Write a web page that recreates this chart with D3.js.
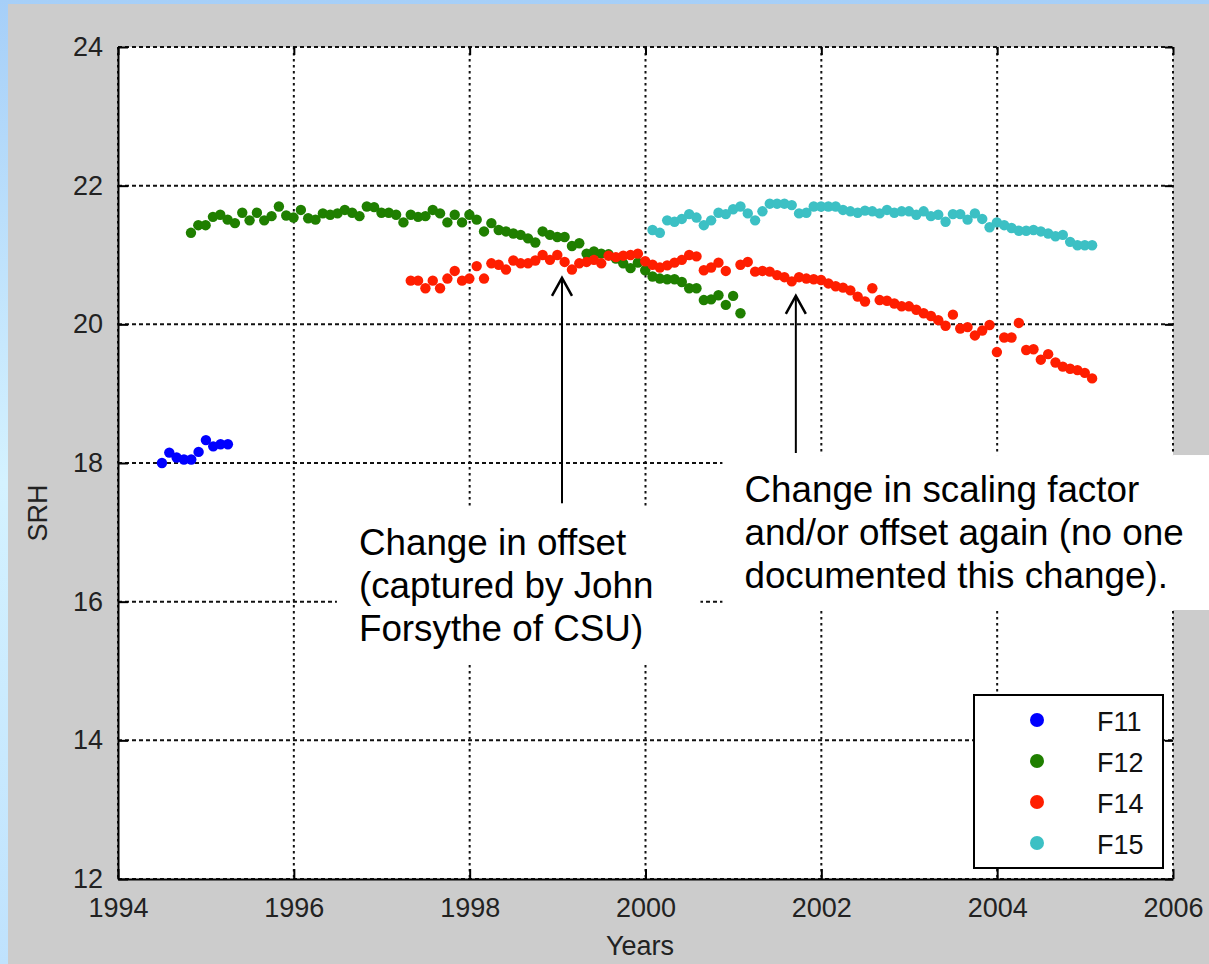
<!DOCTYPE html>
<html>
<head>
<meta charset="utf-8">
<script src="https://cdn.jsdelivr.net/npm/d3@7"></script>
<style>
  html, body { margin: 0; padding: 0; background: #cccccc; }
  svg { display: block; }
  text { font-family: "Liberation Sans", Arial, Helvetica, sans-serif; }
</style>
</head>
<body>
<svg id="chart" width="1209" height="964"></svg>
<script>
// ---------------- DATA ----------------
const X_TICKS = [1994, 1996, 1998, 2000, 2002, 2004, 2006];
const Y_TICKS = [12, 14, 16, 18, 20, 22, 24];
const SERIES_NAMES = ["F11", "F12", "F14", "F15"];
const SERIES_COLORS = ["#0000ff", "#1f7f00", "#ff1e00", "#3cc0c4"];
const SERIES_START = [1994.5, 1994.83, 1997.33, 2000.08]; // first monthly sample (decimal year)

const F11 = [18.00, 18.15, 18.08, 18.05, 18.05, 18.16, 18.33, 18.24, 18.27, 18.27];

const F12 = [21.32, 21.43, 21.43, 21.55, 21.58, 21.51, 21.46, 21.61, 21.50, 21.61,
             21.50, 21.56, 21.70, 21.57, 21.54, 21.65, 21.53, 21.51, 21.60, 21.58,
             21.60, 21.65, 21.61, 21.56, 21.70, 21.69, 21.61, 21.61, 21.58, 21.47,
             21.58, 21.55, 21.56, 21.65, 21.60, 21.47, 21.58, 21.47, 21.58, 21.51,
             21.34, 21.46, 21.36, 21.34, 21.31, 21.29, 21.24, 21.18, 21.34, 21.29,
             21.26, 21.26, 21.13, 21.17, 21.02, 21.05, 21.02, 21.01, 20.95, 20.88,
             20.81, 20.89, 20.78, 20.69, 20.66, 20.65, 20.65, 20.61, 20.52, 20.52,
             20.35, 20.36, 20.42, 20.28, 20.41, 20.16];

const F14 = [20.63, 20.63, 20.52, 20.63, 20.52, 20.66, 20.77, 20.63, 20.66, 20.84,
             20.66, 20.88, 20.86, 20.79, 20.92, 20.88, 20.88, 20.92, 21.00, 20.93,
             21.00, 20.90, 20.79, 20.88, 20.90, 20.93, 20.88, 20.99, 20.97, 20.99,
             21.00, 21.02, 20.91, 20.86, 20.82, 20.85, 20.89, 20.93, 21.00, 20.98,
             20.78, 20.82, 20.89, 20.77, null,  20.86, 20.90, 20.76, 20.77, 20.76,
             20.71, 20.68, 20.62, 20.68, 20.66, 20.65, 20.64, 20.59, 20.55, 20.53,
             20.49, 20.40, 20.33, 20.52, 20.35, 20.34, 20.30, 20.26, 20.26, 20.21,
             20.16, 20.12, 20.06, 19.98, 20.14, 19.94, 19.96, 19.84, 19.91, 19.99,
             19.60, 19.81, 19.81, 20.02, 19.63, 19.64, 19.49, 19.57, 19.45, 19.39,
             19.36, 19.34, 19.30, 19.22];

const F15 = [21.36, 21.32, 21.50, 21.48, 21.52, 21.59, 21.54, 21.43, 21.50, 21.61,
             21.59, 21.66, 21.70, 21.60, 21.50, 21.63, 21.74, 21.74, 21.74, 21.72,
             21.60, 21.61, 21.70, 21.70, 21.70, 21.70, 21.65, 21.63, 21.61, 21.64,
             21.63, 21.60, 21.65, 21.61, 21.63, 21.63, 21.58, 21.63, 21.56, 21.58,
             21.48, 21.59, 21.59, 21.51, 21.60, 21.52, 21.40, 21.47, 21.43, 21.39,
             21.35, 21.35, 21.36, 21.34, 21.31, 21.27, 21.29, 21.19, 21.14, 21.14,
             21.14];

const ANNOTATIONS = [
  { lines: ["Change in offset", "(captured by John", "Forsythe of CSU)"],
    box: [1996.49, 2000.625, 17.35, 15.13], arrowX: 1999.05, arrowFrom: 17.39, arrowTo: 20.67 },
  { lines: ["Change in scaling factor", "and/or offset again (no one", "documented this change)."],
    box: [2000.875, 2006.45, 18.115, 15.88], arrowX: 2001.71, arrowFrom: 18.115, arrowTo: 20.41 }
];

// ---------------- LAYOUT ----------------
const W = 1209, H = 964;
const svg = d3.select("#chart");
const x = d3.scaleLinear().domain([1994, 2006]).range([118, 1173]);
const y = d3.scaleLinear().domain([12, 24]).range([879, 47]);

const defs = svg.append("defs");
const grad = defs.append("linearGradient").attr("id", "bg").attr("x1", 0).attr("y1", 0).attr("x2", 0).attr("y2", 1);
grad.append("stop").attr("offset", "0%").attr("stop-color", "#a6cff8");
grad.append("stop").attr("offset", "50%").attr("stop-color", "#d4f2ff");
grad.append("stop").attr("offset", "100%").attr("stop-color", "#bfe2fd");

svg.append("rect").attr("width", W).attr("height", H).attr("fill", "url(#bg)");
svg.append("rect").attr("x", 8).attr("y", 4).attr("width", W - 8).attr("height", H - 4).attr("fill", "#cccccc");

// plot area
svg.append("rect")
  .attr("x", x(1994)).attr("y", y(24))
  .attr("width", x(2006) - x(1994)).attr("height", y(12) - y(24))
  .attr("fill", "#ffffff");

// grid
const grid = svg.append("g");
grid.selectAll("line.h").data(Y_TICKS).join("line")
  .attr("x1", x(1994)).attr("x2", x(2006))
  .attr("y1", d => y(d)).attr("y2", d => y(d))
  .attr("stroke", "#111").attr("stroke-width", 2).attr("stroke-dasharray", "4,3");
grid.selectAll("line.v").data(X_TICKS).join("line")
  .attr("y1", y(24)).attr("y2", y(12))
  .attr("x1", d => x(d)).attr("x2", d => x(d))
  .attr("stroke", "#111").attr("stroke-width", 2).attr("stroke-dasharray", "2.5,3.5");

// axes
const fontSize = 27;
const gx = svg.append("g").attr("transform", `translate(0,${y(12)})`)
  .call(d3.axisBottom(x).tickValues(X_TICKS).tickFormat(d3.format("d")).tickSize(-10).tickSizeOuter(0).tickPadding(19));
const gy = svg.append("g").attr("transform", `translate(${x(1994)},0)`)
  .call(d3.axisLeft(y).tickValues(Y_TICKS).tickFormat(d3.format("d")).tickSize(-10).tickSizeOuter(0).tickPadding(15));
svg.append("g").attr("transform", `translate(0,${y(24)})`)
  .call(d3.axisTop(x).tickValues(X_TICKS).tickFormat("").tickSize(-8).tickSizeOuter(0))
  .call(g => g.select(".domain").remove());
svg.append("g").attr("transform", `translate(${x(2006)},0)`)
  .call(d3.axisRight(y).tickValues(Y_TICKS).tickFormat("").tickSize(-8).tickSizeOuter(0))
  .call(g => g.select(".domain").remove());
[gx, gy].forEach(g => {
  g.select(".domain").attr("stroke", "#000").attr("stroke-width", 2);
  g.selectAll(".tick text").attr("fill", "#222").style("font-size", fontSize + "px")
    .style("font-family", '"Liberation Sans", Arial, sans-serif');
});
svg.selectAll(".tick line").attr("stroke", "#000").attr("stroke-width", 2);

// axis titles
svg.append("text").attr("x", 640).attr("y", 955).attr("text-anchor", "middle")
  .attr("fill", "#222").style("font-size", fontSize + "px").text("Years");
svg.append("text").attr("transform", "translate(47,513) rotate(-90)").attr("text-anchor", "middle")
  .attr("fill", "#222").style("font-size", fontSize + "px").text("SRH");

// data points
const allSeries = [F11, F12, F14, F15];
const pts = svg.append("g");
allSeries.forEach((vals, si) => {
  const data = vals.map((v, i) => ({ t: SERIES_START[si] + i / 12, v })).filter(d => d.v !== null);
  pts.append("g").selectAll("circle").data(data).join("circle")
    .attr("cx", d => x(d.t)).attr("cy", d => y(d.v)).attr("r", 5.2)
    .attr("fill", SERIES_COLORS[si]);
});

// legend
const lg = svg.append("g");
lg.append("rect").attr("x", 974).attr("y", 695).attr("width", 189).attr("height", 173)
  .attr("fill", "#fff").attr("stroke", "#000").attr("stroke-width", 2);
SERIES_NAMES.forEach((name, i) => {
  const cy = 720 + i * 41;
  lg.append("circle").attr("cx", 1037).attr("cy", cy).attr("r", 7).attr("fill", SERIES_COLORS[i]);
  lg.append("text").attr("x", 1097).attr("y", cy + 11).attr("fill", "#111")
    .style("font-size", "27px").text(name);
});

// annotations
const ann = svg.append("g");
ANNOTATIONS.forEach(a => {
  const [x0, x1, y0, y1] = a.box;
  ann.append("rect").attr("x", x(x0)).attr("y", y(y0))
    .attr("width", x(x1) - x(x0)).attr("height", y(y1) - y(y0)).attr("fill", "#fff");
  const t = ann.append("text").attr("fill", "#000").style("font-size", "36.8px");
  a.lines.forEach((ln, i) => {
    t.append("tspan").attr("x", x(x0) + 22).attr("y", y(y0) + 47 + i * 43).text(ln);
  });
  const ax = x(a.arrowX), ty = y(a.arrowTo);
  ann.append("line").attr("x1", ax).attr("x2", ax).attr("y1", y(a.arrowFrom) - 2).attr("y2", ty)
    .attr("stroke", "#000").attr("stroke-width", 2);
  ann.append("path").attr("d", `M${ax - 10},${ty + 18} L${ax},${ty} L${ax + 10},${ty + 18}`)
    .attr("fill", "none").attr("stroke", "#000").attr("stroke-width", 2.5);
});
</script>
</body>
</html>
